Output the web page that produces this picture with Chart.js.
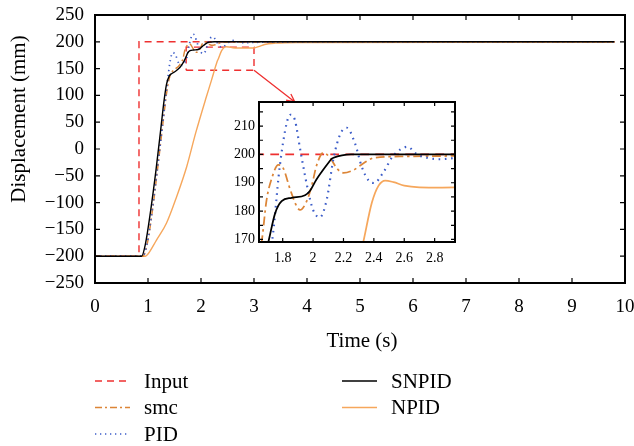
<!DOCTYPE html>
<html>
<head>
<meta charset="utf-8">
<script src="https://cdn.jsdelivr.net/npm/chart.js@4.4.1/dist/chart.umd.min.js"></script>
<style>
  html, body { margin: 0; padding: 0; background: #fff; }
  #wrap { position: relative; width: 634px; height: 446px; }
  #mainChart { position: absolute; left: 0; top: 0; }
  #insetChart { position: absolute; left: 213px; top: 95px; }
</style>
</head>
<body>
<div id="wrap">
  <canvas id="mainChart" width="634" height="446"></canvas>
  <canvas id="insetChart" width="247" height="175"></canvas>
</div>
<script>
const seriesNames = ['Input', 'smc', 'PID', 'SNPID', 'NPID'];
const seriesColors = ['#ee3030', '#dc8537', '#3b5cc8', '#000000', '#f6a75c'];

// time (s) / displacement (mm)
const inputT = [0, 0.83, 0.83, 9.8];
const inputV = [-200, -200, 200, 200];

const smcT = [0, 0.9, 0.99, 1.09, 1.19, 1.29, 1.36, 1.42, 1.5, 1.58, 1.63, 1.661, 1.694, 1.727, 1.771, 1.804, 1.848, 1.892, 1.914, 1.958, 1.991, 2.024, 2.068, 2.112, 2.156, 2.2, 2.266, 2.332, 2.4, 2.6, 3.2, 9.8];
const smcV = [-200, -200, -175, -110, -30, 55, 110, 138, 148, 155, 162, 169, 184, 191.4, 196.3, 195.1, 187.8, 181.7, 180.4, 183.5, 189, 196.3, 200.6, 198.8, 195.1, 193.5, 194.5, 196.9, 198.8, 199.3, 199.5, 199.5];

const pidT = [0, 0.9, 0.98, 1.08, 1.18, 1.28, 1.36, 1.42, 1.47, 1.52, 1.58, 1.64, 1.69, 1.73, 1.78, 1.826, 1.85, 1.88, 1.915, 1.96, 2.0, 2.045, 2.09, 2.135, 2.18, 2.222, 2.277, 2.32, 2.365, 2.4, 2.465, 2.52, 2.575, 2.62, 2.685, 2.75, 2.84, 2.93, 3.3, 9.8];
const pidV = [-200, -200, -178, -115, -35, 50, 120, 165, 180, 175, 160, 156, 161, 169.4, 195.5, 211, 214, 212.2, 201.8, 189, 180.4, 177.8, 184.1, 198.8, 207.3, 209.4, 203.7, 195.7, 190.8, 189.9, 193.9, 199, 201.8, 202.7, 200, 198.8, 198.3, 198.7, 199.5, 200];

const snpidT = [0, 0.88, 0.95, 1.05, 1.15, 1.25, 1.3, 1.35, 1.4, 1.45, 1.52, 1.6, 1.67, 1.705, 1.75, 1.793, 1.859, 1.947, 1.98, 2.02, 2.057, 2.1, 2.123, 2.16, 2.19, 2.25, 2.4, 9.8];
const snpidV = [-200, -200, -178, -115, -40, 45, 88, 121, 136, 141, 145, 152, 162, 169, 179.2, 183.5, 184.7, 185.6, 187.2, 191, 193.9, 197, 198.5, 199.3, 199.7, 200, 200, 200];

const npidT = [0, 0.95, 1.0, 1.16, 1.35, 1.54, 1.73, 1.9, 2.1, 2.2, 2.3, 2.33, 2.387, 2.431, 2.475, 2.53, 2.6, 2.7, 2.85, 3.0, 3.1, 3.2, 3.4, 3.8, 9.8];
const npidV = [-200, -200, -196, -170, -138, -89, -33, 30, 97, 129, 162, 169, 183, 189, 190.8, 190.2, 189, 188.4, 188.3, 188.5, 191.5, 195, 197.5, 198.8, 199];

// dashed box marking the zoomed region
const boxT = [1.72, 3.0, 3.0, 1.72, 1.72];
const boxV = [147, 147, 190, 190, 147];

// axis ticks
const xTicks = [0, 1, 2, 3, 4, 5, 6, 7, 8, 9, 10];
const yTicks = [-250, -200, -150, -100, -50, 0, 50, 100, 150, 200, 250];
const insetXTicks = [1.8, 2, 2.2, 2.4, 2.6, 2.8];
const insetYTicks = [170, 180, 190, 200, 210];
const insetYMinor = [170, 175, 180, 185, 190, 195, 200, 205, 210, 215];

const allT = [inputT, smcT, pidT, snpidT, npidT];
const allV = [inputV, smcV, pidV, snpidV, npidV];

const FONT = "'Liberation Serif', 'DejaVu Serif', serif";

function pts(ts, vs) {
    return ts.map((t, i) => ({x: t, y: vs[i]}));
}

function makeDatasets(scale) {
    const dash = [[7 * scale, 5 * scale], [7 * scale, 3 * scale, 2 * scale, 3 * scale], [1.3 * scale, 3.7 * scale], [], []];
    const order = [4, 2, 1, 0, 3];
    return seriesNames.map((name, i) => ({
        label: name,
        data: pts(allT[i], allV[i]),
        borderColor: seriesColors[i],
        borderWidth: i === 2 ? 1.7 * scale : 1.4 * scale,
        borderDash: dash[i],
        cubicInterpolationMode: i === 0 ? 'default' : 'monotone',
        tension: 0,
        pointRadius: 0,
        order: order[i]
    }));
}

function drawFrame(chart, tickLen, yMinor) {
    const {ctx, chartArea: a, scales: {x, y}} = chart;
    ctx.save();
    ctx.strokeStyle = '#000';
    ctx.lineWidth = 1.2;
    ctx.beginPath();
    x.ticks.forEach(t => {
        const px = x.getPixelForValue(t.value);
        ctx.moveTo(px, a.bottom); ctx.lineTo(px, a.bottom - tickLen);
        ctx.moveTo(px, a.top); ctx.lineTo(px, a.top + tickLen);
    });
    const yVals = yMinor || y.ticks.map(t => t.value);
    yVals.forEach(v => {
        const py = y.getPixelForValue(v);
        ctx.moveTo(a.left, py); ctx.lineTo(a.left + tickLen, py);
        ctx.moveTo(a.right, py); ctx.lineTo(a.right - tickLen, py);
    });
    ctx.stroke();
    ctx.lineWidth = 2;
    ctx.strokeRect(a.left, a.top, a.width, a.height);
    ctx.restore();
}

const minusFmt = v => String(v).replace('-', '\u2212');

function fixX(h) {
    return s => { s.height = h; s.paddingLeft = 0; s.paddingRight = 0; };
}
function fixY(w) {
    return s => { s.width = w; s.paddingTop = 0; s.paddingBottom = 0; };
}

// inset first, the main chart reads its area for the arrow
const insetCanvas = document.getElementById('insetChart');
const inset = new Chart(insetCanvas, {
    type: 'line',
    data: {datasets: makeDatasets(1.25)},
    options: {
        responsive: false,
        animation: false,
        layout: {padding: {left: 0, right: 5, top: 7, bottom: 0}},
        plugins: {legend: {display: false}, tooltip: {enabled: false}},
        scales: {
            x: {
                type: 'linear', min: 1.644, max: 2.934,
                afterBuildTicks: s => { s.ticks = insetXTicks.map(v => ({value: v})); },
                afterFit: fixX(28),
                grid: {display: false, drawTicks: false},
                border: {display: false},
                ticks: {color: '#000', padding: 8, maxRotation: 0, font: {family: FONT, size: 14}, callback: v => String(v)}
            },
            y: {
                type: 'linear', min: 169.1, max: 218.5,
                afterBuildTicks: s => { s.ticks = insetYTicks.map(v => ({value: v})); },
                afterFit: fixY(46),
                grid: {display: false, drawTicks: false},
                border: {display: false},
                ticks: {color: '#000', padding: 4, font: {family: FONT, size: 14}}
            }
        }
    },
    plugins: [{
        id: 'insetFrame',
        beforeDatasetsDraw(chart) {
            const {ctx, chartArea: a} = chart;
            ctx.save();
            ctx.fillStyle = '#fff';
            ctx.fillRect(a.left, a.top, a.width, a.height);
            ctx.restore();
        },
        afterDatasetsDraw(chart) { drawFrame(chart, 4, insetYMinor); }
    }]
});

const mainDatasets = makeDatasets(1);
mainDatasets.push({
    label: 'zoom',
    data: pts(boxT, boxV),
    borderColor: seriesColors[0],
    borderWidth: 1.4,
    borderDash: [7, 5],
    pointRadius: 0,
    tension: 0,
    order: 5
});

new Chart(document.getElementById('mainChart'), {
    type: 'line',
    data: {datasets: mainDatasets},
    options: {
        responsive: false,
        animation: false,
        layout: {padding: {left: 0, right: 9, top: 15, bottom: 103}},
        plugins: {legend: {display: false}, tooltip: {enabled: false}},
        scales: {
            x: {
                type: 'linear', min: 0, max: 10,
                afterBuildTicks: s => { s.ticks = xTicks.map(v => ({value: v})); },
                afterFit: fixX(60),
                grid: {display: false, drawTicks: false},
                border: {display: false},
                ticks: {color: '#000', padding: 13, maxRotation: 0, font: {family: FONT, size: 19}}
            },
            y: {
                type: 'linear', min: -250, max: 250,
                afterBuildTicks: s => { s.ticks = yTicks.map(v => ({value: v})); },
                afterFit: fixY(95),
                grid: {display: false, drawTicks: false},
                border: {display: false},
                ticks: {color: '#000', padding: 11, font: {family: FONT, size: 19}, callback: minusFmt}
            }
        }
    },
    plugins: [{
        id: 'decor',
        afterDatasetsDraw(chart) {
            drawFrame(chart, 5);
            const {ctx, chartArea: a, scales: {x, y}} = chart;
            ctx.save();

            // arrow from the box corner to the inset
            const x0 = x.getPixelForValue(boxT[1]), y0 = y.getPixelForValue(boxV[1]);
            const x1 = insetCanvas.offsetLeft + inset.scales.x.getPixelForValue(1.88);
            const y1 = insetCanvas.offsetTop + inset.chartArea.top;
            const ang = Math.atan2(y1 - y0, x1 - x0);
            ctx.strokeStyle = seriesColors[0];
            ctx.lineWidth = 1.3;
            ctx.beginPath();
            ctx.moveTo(x0, y0); ctx.lineTo(x1, y1);
            ctx.moveTo(x1 - 9 * Math.cos(ang - 0.45), y1 - 9 * Math.sin(ang - 0.45));
            ctx.lineTo(x1, y1);
            ctx.lineTo(x1 - 9 * Math.cos(ang + 0.45), y1 - 9 * Math.sin(ang + 0.45));
            ctx.stroke();

            // axis titles
            ctx.fillStyle = '#000';
            ctx.font = '21px ' + FONT;
            ctx.textAlign = 'center';
            ctx.textBaseline = 'middle';
            ctx.fillText('Time (s)', (a.left + a.right) / 2 + 2, a.bottom + 58);
            ctx.translate(19, 119);
            ctx.rotate(-Math.PI / 2);
            ctx.fillText('Displacement (mm)', 0, 0);
            ctx.restore();

            // legend, two columns filled top to bottom
            ctx.save();
            ctx.font = '21px ' + FONT;
            ctx.textBaseline = 'middle';
            const colX = [95, 342];
            seriesNames.forEach((name, i) => {
                const ds = chart.data.datasets[i];
                const lx = colX[Math.floor(i / 3)];
                const ly = 381 + (i % 3) * 26.5;
                ctx.strokeStyle = ds.borderColor;
                ctx.lineWidth = ds.borderWidth;
                ctx.setLineDash(ds.borderDash);
                ctx.beginPath();
                ctx.moveTo(lx, ly); ctx.lineTo(lx + 35, ly);
                ctx.stroke();
                ctx.setLineDash([]);
                ctx.fillStyle = '#000';
                ctx.fillText(name, lx + 49, ly + 1);
            });
            ctx.restore();
        }
    }]
});
</script>
</body>
</html>
